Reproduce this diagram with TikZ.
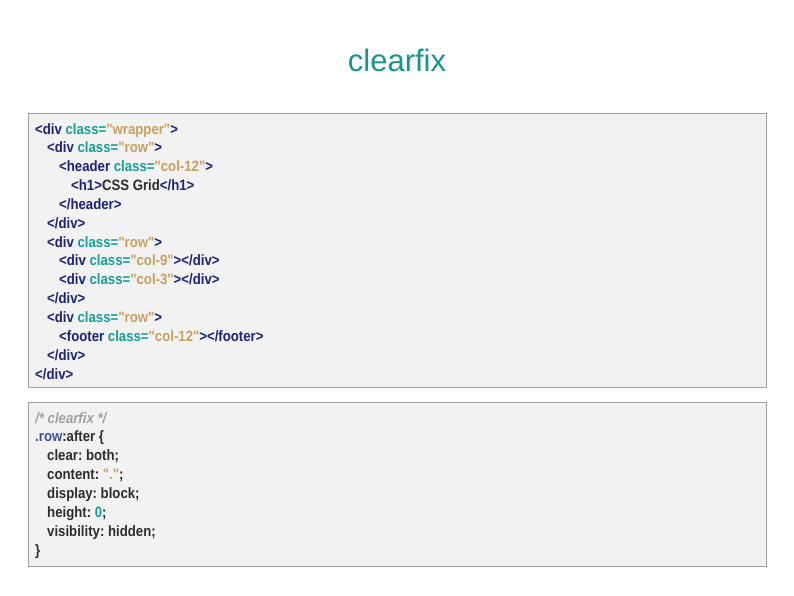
\documentclass[tikz,border=0pt]{standalone}
\usepackage{fontspec}
\setmainfont{Liberation Sans}
\newfontfamily\codefont[FakeStretch=0.88,UprightFont={* Bold},ItalicFont={* Bold Italic}]{Liberation Sans}
\frenchspacing

\definecolor{titleteal}{RGB}{22,150,140}
\definecolor{tagblue}{RGB}{28,36,120}
\definecolor{attrteal}{RGB}{24,160,150}
\definecolor{valtan}{RGB}{200,160,96}
\definecolor{plaingray}{RGB}{45,45,45}
\definecolor{commentgray}{RGB}{160,160,160}
\definecolor{selblue}{RGB}{60,80,160}
\definecolor{boxfill}{RGB}{242,242,242}
\definecolor{boxline}{RGB}{160,160,160}

\newcommand{\ctag}[1]{\textcolor{tagblue}{#1}}
\newcommand{\cattr}[1]{\textcolor{attrteal}{#1}}
\newcommand{\cval}[1]{\textcolor{valtan}{#1}}

\begin{document}
\begin{tikzpicture}[x=1pt,y=-1pt,
  codebox/.style={draw=boxline,fill=boxfill,line width=1pt,inner sep=0pt,minimum width=738pt},
  codeline/.style={anchor=base west,inner sep=0pt,font=\codefont\fontsize{15}{17}\selectfont,text=plaingray}]
\useasboundingbox (0,0) rectangle (794,595);
\node[font=\fontsize{31}{36}\selectfont,text=titleteal] (title) at (397,60) {clearfix};
\node[codebox,minimum height=274pt] (htmlbox) at (397,250) {};
\node[codebox,minimum height=164pt] (cssbox) at (397,484) {};
% html markup
\node[codeline] (h1) at (35,134) {\ctag{<div} \cattr{class=}\cval{"wrapper"}\ctag{>}};
\node[codeline] (h2) at (47,152.85) {\ctag{<div} \cattr{class=}\cval{"row"}\ctag{>}};
\node[codeline] (h3) at (59,171.7) {\ctag{<header} \cattr{class=}\cval{"col-12"}\ctag{>}};
\node[codeline] (h4) at (71,190.55) {\ctag{<h1>}CSS Grid\ctag{</h1>}};
\node[codeline] (h5) at (59,209.4) {\ctag{</header>}};
\node[codeline] (h6) at (47,228.25) {\ctag{</div>}};
\node[codeline] (h7) at (47,247.1) {\ctag{<div} \cattr{class=}\cval{"row"}\ctag{>}};
\node[codeline] (h8) at (59,265.95) {\ctag{<div} \cattr{class=}\cval{"col-9"}\ctag{></div>}};
\node[codeline] (h9) at (59,284.8) {\ctag{<div} \cattr{class=}\cval{"col-3"}\ctag{></div>}};
\node[codeline] (h10) at (47,303.65) {\ctag{</div>}};
\node[codeline] (h11) at (47,322.5) {\ctag{<div} \cattr{class=}\cval{"row"}\ctag{>}};
\node[codeline] (h12) at (59,341.35) {\ctag{<footer} \cattr{class=}\cval{"col-12"}\ctag{></footer>}};
\node[codeline] (h13) at (47,360.2) {\ctag{</div>}};
\node[codeline] (h14) at (35,379.05) {\ctag{</div>}};
% css rule
\node[codeline,text=commentgray,font=\codefont\fontsize{15}{17}\selectfont\itshape] (c1) at (35,423) {/* clearfix */};
\node[codeline] (c2) at (35,441.86) {\textcolor{selblue}{.row}:after \{};
\node[codeline] (c3) at (47,460.72) {clear: both;};
\node[codeline] (c4) at (47,479.58) {content: \cval{"."};};
\node[codeline] (c5) at (47,498.44) {display: block;};
\node[codeline] (c6) at (47,517.3) {height: \cattr{0};};
\node[codeline] (c7) at (47,536.16) {visibility: hidden;};
\node[codeline] (c8) at (35,555.02) {\}};
\end{tikzpicture}
\end{document}
